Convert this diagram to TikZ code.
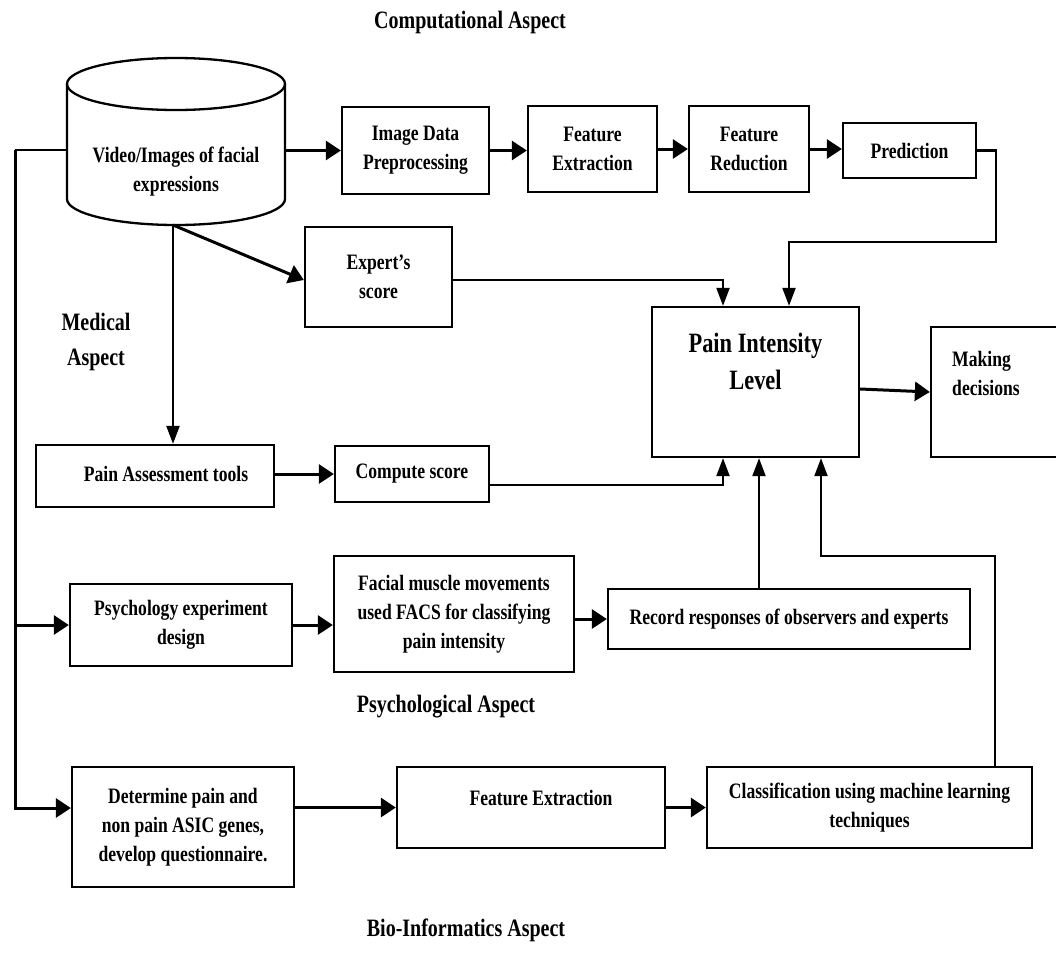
\documentclass[tikz,border=0pt]{standalone}
\usepackage{fontspec}
\setmainfont{Liberation Serif}[FakeStretch=0.8]
\usetikzlibrary{arrows.meta}

\begin{document}
\begin{tikzpicture}[
  x=1pt, y=-1pt,
  font=\fontsize{22}{29}\selectfont\bfseries,
  box/.style={draw, line width=2.3pt, align=center, inner sep=2pt},
  txt/.style={align=center, inner sep=0pt},
  title/.style={txt, font=\fontsize{25}{35}\selectfont\bfseries},
  arrow/.style={-{Triangle[length=15pt,width=19pt]}, line width=3pt},
  route/.style={-{Triangle[length=18pt,width=13pt]}, line width=2.2pt},
  line/.style={line width=2.2pt}
]
\useasboundingbox (0,0) rectangle (1056,974);

% computational aspect
\node[title] (tcomp) at (470,22) {Computational Aspect};
\node[minimum width=218pt, minimum height=167pt, outer sep=0pt, inner sep=0pt] (vid) at (176,141.5) {};
\draw[line width=2.3pt] ([yshift=-26pt]vid.north west) -- ([yshift=26pt]vid.south west)
  arc[start angle=180, end angle=360, x radius=109pt, y radius=26pt] -- ([yshift=-26pt]vid.north east);
\draw[line width=2.3pt] ([yshift=-26pt]vid.north) ellipse [x radius=109pt, y radius=26pt];
\node[txt] (vidlbl) at (176,172) {Video/Images of facial\\expressions};
\node[box, minimum width=147pt, minimum height=87pt] (idp) at (415.5,150.5) {Image Data\\Preprocessing};
\node[box, minimum width=129pt, minimum height=86pt] (fe) at (592.5,149) {Feature\\Extraction};
\node[box, minimum width=120pt, minimum height=86pt] (fr) at (749,149) {Feature\\Reduction};
\node[box, minimum width=133pt, minimum height=55pt] (pred) at (909.5,150.5) {Prediction};

% medical aspect
\node[title] (tmed) at (96,342) {Medical\\Aspect};
\node[box, minimum width=147pt, minimum height=100pt] (exp) at (378.5,277) {Expert’s\\score};
\node[box, minimum width=207pt, minimum height=150pt] (pain) at (755.5,382) {};
\node[txt, font=\fontsize{28}{37}\selectfont\bfseries] (painlbl) at (755.5,361) {Pain Intensity\\Level};
\node[box, minimum width=160pt, minimum height=130pt] (mk) at (1011,392) {};
\node[txt, anchor=west, align=left] (mklbl) at (952,373) {Making\\decisions};
\node[box, minimum width=238pt, minimum height=62pt] (pat) at (155,476) {};
\node[txt] (patlbl) at (166,474) {Pain Assessment tools};
\node[box, minimum width=154pt, minimum height=56pt] (cs) at (412,474) {Compute score};

% psychological aspect
\node[box, minimum width=222pt, minimum height=82pt] (psy) at (181,625) {Psychology experiment\\design};
\node[box, minimum width=240pt, minimum height=116pt] (facs) at (454,614) {Facial muscle movements\\used FACS for classifying\\pain intensity};
\node[box, minimum width=362pt, minimum height=60pt] (rec) at (789,619) {Record responses of observers and experts};
\node[title] (tpsy) at (446,707) {Psychological Aspect};

% bio-informatics aspect
\node[box, minimum width=222pt, minimum height=120pt] (det) at (183,827) {Determine pain and\\non pain ASIC genes,\\develop questionnaire.};
\node[box, minimum width=268pt, minimum height=81pt] (fe2) at (531,807.5) {};
\node[txt] (fe2lbl) at (541,798) {Feature Extraction};
\node[box, minimum width=325pt, minimum height=81pt] (cls) at (869.5,807.5) {Classification using machine learning\\techniques};
\node[title] (tbio) at (466,930) {Bio-Informatics Aspect};

% connectors
\coordinate (rail) at (15,150);
\draw[line] (vid.west |- rail) -- (rail);
\draw[arrow] (rail) |- ([yshift=19pt]det.west);
\draw[arrow] (rail |- psy.west) -- (psy.west);

\draw[arrow] (vid.east |- idp.west) -- (idp.west);
\draw[arrow] (idp.east) -- (idp.east -| fe.west);
\draw[arrow] (fe.east) -- (fr.west);
\draw[arrow] (fr.east) -- (fr.east -| pred.west);
\coordinate (pbend) at (996,242);
\draw[route] (pred.east) -| (pbend) -| ([xshift=33.5pt]pain.north);

\draw[route] ([xshift=-3pt]vid.south) -- ([xshift=-3pt]vid.south |- pat.north);
\draw[arrow] ([xshift=-3pt]vid.south) -- ([yshift=-3pt]exp.west);
\draw[route] ([yshift=-3pt]exp.east) -| ([xshift=-32.5pt]pain.north);
\draw[arrow] ([yshift=-7pt]pain.east) -- (mk.west);
\draw[arrow] (pat.east |- cs.west) -- (cs.west);
\draw[route] ([yshift=-11pt]cs.east) -| ([xshift=-32.5pt]pain.south);

\draw[arrow] (psy.east) -- (psy.east -| facs.west);
\draw[arrow] (facs.east |- rec.west) -- (rec.west);
\draw[route] ([xshift=-30pt]rec.north) -- ([xshift=-30pt]rec.north |- pain.south);

\draw[arrow] (det.east |- fe2.west) -- (fe2.west);
\draw[arrow] (fe2.east) -- (cls.west);
\coordinate (cbend) at (821,556);
\draw[route] ([xshift=125.5pt]cls.north) |- (cbend) -- (cbend |- pain.south);
\end{tikzpicture}
\end{document}
